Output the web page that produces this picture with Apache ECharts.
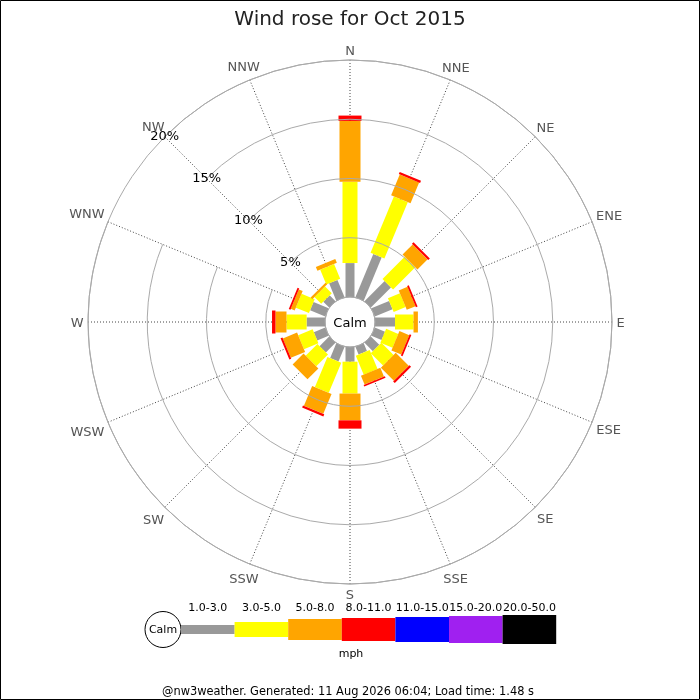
<!DOCTYPE html>
<html>
<head>
<meta charset="utf-8">
<script src="https://cdn.jsdelivr.net/npm/echarts@6/dist/echarts.min.js"></script>
<style>
    html, body { margin: 0; padding: 0; background: #fff; }
    #chart { width: 700px; height: 700px; }
</style>
</head>
<body>
<div id="chart"></div>
<script>
// directions, clockwise from north
const directions = ['N', 'NNE', 'NE', 'ENE', 'E', 'ESE', 'SE', 'SSE', 'S', 'SSW', 'SW', 'WSW', 'W', 'WNW', 'NW', 'NNW'];
const speedBins = ['1.0-3.0', '3.0-5.0', '5.0-8.0', '8.0-11.0', '11.0-15.0', '15.0-20.0', '20.0-50.0'];

// percent of time per direction, one array per speed bin (mph)
const pct1to3 = [2.86, 3.95, 2.40, 1.62, 1.69, 0.93, 1.00, 0.70, 1.24, 1.34, 1.15, 1.04, 1.55, 1.38, 0.70, 1.58];
const pct3to5 = [6.86, 5.15, 2.65, 1.09, 1.56, 1.11, 1.46, 1.74, 2.69, 2.76, 1.40, 1.32, 1.70, 1.20, 0.80, 1.35];
const pct5to8 = [5.14, 1.90, 1.20, 0.80, 0.37, 0.90, 1.55, 0.80, 2.26, 1.81, 1.30, 1.30, 0.93, 0.35, 0.20, 0.35];
const pct8to11 = [0.45, 0.20, 0.20, 0.15, 0.00, 0.15, 0.20, 0.15, 0.70, 0.20, 0.00, 0.17, 0.29, 0.15, 0.00, 0.00];
const pct11to15 = [0, 0, 0, 0, 0, 0, 0, 0, 0, 0, 0, 0, 0, 0, 0, 0];
const pct15to20 = [0, 0, 0, 0, 0, 0, 0, 0, 0, 0, 0, 0, 0, 0, 0, 0];
const pct20to50 = [0, 0, 0, 0, 0, 0, 0, 0, 0, 0, 0, 0, 0, 0, 0, 0];

const radialTicks = [5, 10, 15, 20];

const binColors = ['#999999', '#ffff00', '#ffa500', '#ff0000', '#0000ff', '#a020f0', '#000000'];
const binWidths = [9, 15, 21, 23, 25, 27, 29];

const allBins = [pct1to3, pct3to5, pct5to8, pct8to11, pct11to15, pct15to20, pct20to50];

// radius axis labels sit on the start of the angle axis, so start it at NW
const angleCats = directions.slice(14).concat(directions.slice(0, 14));

let chart = echarts.init(document.getElementById('chart'));

let measureCtx = document.createElement('canvas').getContext('2d');
measureCtx.font = '13px "DejaVu Sans"';

// stack the bins outward from the calm circle
let base = directions.map(function () { return 0; });
let series = allBins.map(function (values, b) {
    let data = [];
    directions.forEach(function (d, i) {
        let start = base[i];
        let end = start + values[i];
        base[i] = end;
        data.push([start, end, angleCats.indexOf(d), b]);
    });
    return {
        type: 'custom',
        name: speedBins[b],
        coordinateSystem: 'polar',
        encode: {radius: [0, 1], angle: 2},
        data: data,
        z: 5,
        silent: true,
        renderItem: function (params, api) {
            let r0 = api.value(0), r1 = api.value(1), idx = api.value(2);
            if (r1 - r0 <= 0) {
                return;
            }
            let cs = params.coordSys;
            let a = api.coord([r0, idx]);
            let c = api.coord([r1, idx]);
            let dx = c[0] - cs.cx, dy = c[1] - cs.cy;
            let len = Math.sqrt(dx * dx + dy * dy);
            let h = binWidths[b] / 2;
            let nx = -dy / len * h, ny = dx / len * h;
            return {
                type: 'polygon',
                shape: {
                    points: [
                        [a[0] + nx, a[1] + ny],
                        [c[0] + nx, c[1] + ny],
                        [c[0] - nx, c[1] - ny],
                        [a[0] - nx, a[1] - ny]
                    ]
                },
                style: {fill: binColors[b]}
            };
        }
    };
});

// compass labels just outside the outer ring, centred on each spoke
series.push({
    type: 'custom',
    coordinateSystem: 'polar',
    encode: {radius: 0, angle: 1},
    data: angleCats.map(function (d, i) { return [20, i]; }),
    z: 20,
    silent: true,
    renderItem: function (params, api) {
        let idx = api.value(1);
        let cs = params.coordSys;
        let p = api.coord([api.value(0), idx]);
        let dx = p[0] - cs.cx, dy = p[1] - cs.cy;
        let len = Math.sqrt(dx * dx + dy * dy);
        let ux = dx / len, uy = dy / len;
        let label = angleCats[idx];
        let hw = measureCtx.measureText(label).width / 2 - 0.5;
        let hh = 5;
        let off = 5 + hw * Math.abs(ux) + hh * Math.abs(uy);
        return {
            type: 'text',
            x: p[0] + ux * off,
            y: p[1] + uy * off + 2,
            style: {
                text: label,
                fill: '#555',
                font: '13px "DejaVu Sans"',
                align: 'center',
                verticalAlign: 'middle'
            }
        };
    }
});

// legend strip under the rose
let legendX = 181, legendW = 53.6, legendY = 629.5;
let graphics = [
    {type: 'rect', shape: {x: 0.5, y: 0.5, width: 699, height: 699}, style: {fill: 'none', stroke: '#000', lineWidth: 1}, z: 100},
    {type: 'text', x: 350, y: 323.5, style: {text: 'Calm', fill: '#000', font: '13px "DejaVu Sans"', align: 'center', verticalAlign: 'middle'}, z: 100},
    {type: 'circle', shape: {cx: 163, cy: legendY, r: 18}, style: {fill: '#fff', stroke: '#000', lineWidth: 1}, z: 100},
    {type: 'text', x: 163, y: legendY + 1, style: {text: 'Calm', fill: '#000', font: '11px "DejaVu Sans"', align: 'center', verticalAlign: 'middle'}, z: 101},
    {type: 'text', x: 351, y: 654, style: {text: 'mph', fill: '#000', font: '11px "DejaVu Sans"', align: 'center', verticalAlign: 'middle'}, z: 100},
    {type: 'text', x: 348, y: 692.5, style: {text: '@nw3weather. Generated: 11 Aug 2026 06:04; Load time: 1.48 s', fill: '#000', font: '11.4px "DejaVu Sans"', align: 'center', verticalAlign: 'middle'}, z: 100}
];
speedBins.forEach(function (label, b) {
    graphics.push({
        type: 'rect',
        shape: {x: legendX + b * legendW, y: legendY - binWidths[b] / 2, width: legendW, height: binWidths[b]},
        style: {fill: binColors[b]},
        z: 100
    });
    graphics.push({
        type: 'text',
        x: legendX + b * legendW + legendW / 2,
        y: 608,
        style: {text: label, fill: '#000', font: '11px "DejaVu Sans"', align: 'center', verticalAlign: 'middle'},
        z: 100
    });
});

let option = {
    backgroundColor: '#fff',
    animation: false,
    textStyle: {fontFamily: 'DejaVu Sans'},
    title: {
        text: 'Wind rose for Oct 2015',
        left: 'center',
        top: 5,
        textStyle: {fontSize: 20, fontWeight: 'normal', color: '#222', fontFamily: 'DejaVu Sans'}
    },
    polar: {
        center: [350, 322],
        radius: [25, 262]
    },
    angleAxis: {
        type: 'category',
        data: angleCats,
        startAngle: 135,
        clockwise: true,
        boundaryGap: false,
        axisLine: {show: true, lineStyle: {color: '#aaa', width: 1}},
        axisTick: {show: false},
        axisLabel: {show: false},
        splitLine: {show: true, lineStyle: {color: '#444', width: 1, type: [1, 2]}}
    },
    radiusAxis: {
        type: 'value',
        min: 0,
        max: 20,
        interval: 5,
        axisLine: {show: false},
        axisTick: {show: false},
        axisLabel: {
            show: true,
            margin: 0,
            align: 'center',
            verticalAlign: 'middle',
            color: '#000',
            fontSize: 13,
            showMinLabel: false,
            formatter: function (v) {
                return radialTicks.indexOf(v) >= 0 ? v + '%' : '';
            }
        },
        splitLine: {show: true, lineStyle: {color: '#aaa', width: 1}},
        z: 10
    },
    series: series,
    graphic: graphics
};

chart.setOption(option);
</script>
</body>
</html>
